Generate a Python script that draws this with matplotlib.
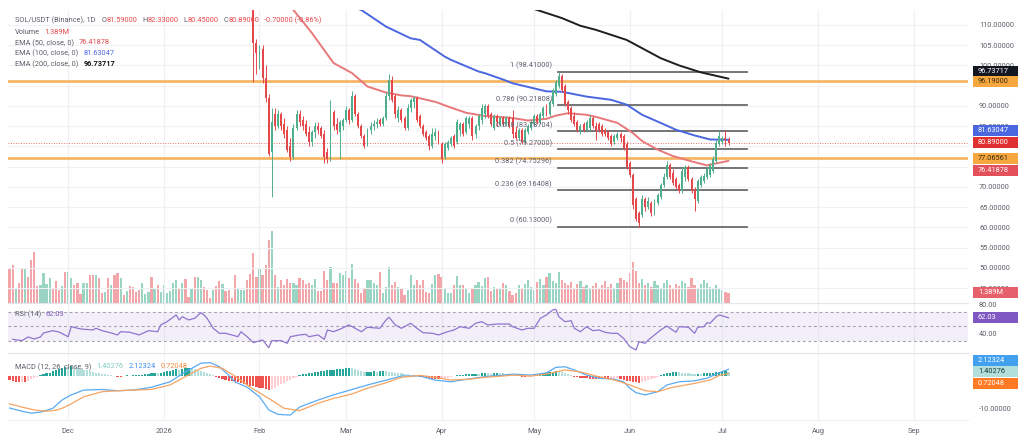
import numpy as np
import matplotlib
matplotlib.use('Agg')
import matplotlib.pyplot as plt
from matplotlib.patches import Rectangle

# ---------------- data ----------------
# daily candles, first candle = day 29 (2026-01-30), day 0 = 2026-01-01
c_first_day = 29
c_open = [117,105.5,101,104,97,92,78.5,88,85,88,85.5,84,80,77.5,84.5,88,86.5,85.5,83.5,81,
          83.5,85,84.5,83,78.5,77,88.5,85.5,83.5,85,86.5,89,86.5,92.5,88,85,82.5,80.5,84,85,
          85.5,86.5,85.5,87,92.5,96.5,92.5,87,89,87,84.5,89.5,91,92,87.5,85,83.5,82.5,80,82.5,
          83.5,80.5,77.5,79.5,80.5,82.5,81,84,85.5,83.5,85.5,87,83,85,86.5,88,90,88,84.5,87.5,
          85.5,87,85.5,87,87,83.5,82,84,81,83.5,84.5,85.5,87.5,86,87.5,90,88,90.5,93,95,
          97.5,95,91,89.5,87.5,86,84,85.5,84,84.5,87,85,85.5,85,84,83.5,82.5,81,82,83,
          82.5,80.5,76,73,67,63.5,63,67,65,66,63.5,66,67.5,70.5,72.5,75.5,73.5,72,70.5,69,
          72.5,75,72,69.5,66.5,70.5,71.5,72.5,73,74,76.5,80.5,81,82,81.59]
c_high = [118,106.5,105,105,100,93,89.5,89.5,89,88.5,87,85,82,85.5,89,89,87.5,86.5,85,84,
          86,86,85,84,79.5,91.5,89,87,86.5,87,90,89.5,93.8,93,88.5,85.5,83,84.5,86,86.5,
          87,87,87.5,93.5,98,97.5,93,90,89.5,87.5,90.5,92,92.5,92.5,88,85.5,84,83,84.5,84.5,
          84,81,81,81.5,82.5,83,86.8,86,86,87.5,87.5,87.5,85.5,88,90.5,90.5,90.5,88.5,88,88,
          87.5,87.5,87.5,87.5,89,85,84.5,84.5,84.5,85.5,86.5,88,88,88.5,90,90.5,91.5,94.5,96.5,98.41,
          98,95.5,91.5,90,88.5,86.5,85.5,86,86.5,87.8,87.5,86,86,85.5,84.5,84,83,83,83.5,83.5,
          83,81.3,76.5,73.5,67.5,64,68,67.5,67.5,66.5,67,68.5,71,73.5,76.3,76,74.5,72.5,71,75,
          75.5,75.5,72.5,70,72,73,73.5,75,76,77.5,81.5,83.7,82.5,84,82.33]
c_low = [96,98,99,95.7,91,77.5,67.6,84,84.5,84,82,78.5,76.3,77,84,85,84,82.5,80,80,
         82,83,82,76,75.8,76.5,84,83,77,84,86,85.5,86,87.5,84.5,82,79.5,80,83,84,
         84.5,85,85,86.5,91.5,91,87,86,86,84,84,88.5,89.5,86,84.5,82.5,81.5,79,79.5,81.5,
         80.5,76,77,79,80,79.5,80.5,82.5,82.5,83,84.5,81.5,82,84,85.5,87,87,85,84,85,
         85,85,85,84.5,82,81.5,81.5,80.5,80.5,83,84,85,85.5,85.5,87,87.5,87.5,90,92.5,94.5,
         93.5,90,88,86,85,83.5,83,83.5,83.5,84,84.5,81.5,83.5,82.5,82.5,81.5,80,80.5,81.5,81,
         79,74.3,72.5,64.5,61.5,60.13,62.5,64,64.5,62.8,63,65.5,67,70,72,72,70.5,69.5,68.5,68.5,
         71.5,71.5,68.5,64,66,70,71,72,72.5,73.5,76,80,80.5,80,80.45]
c_close = [105.5,103,104,97,92,78,86,85,88,85,83,79,77.5,84.5,88,86,85,83,81,83.5,
           85,84,82.5,77.5,77,88.5,85,84,86,86.5,89,86.5,92.5,88,85,82.5,80,84,85,85.5,
           86,85.5,87,92.5,96.5,91.5,88,89,86.5,84.5,89.5,91.5,92,86.5,85,83,82,80,83,83.5,
           81,77,80.5,81,82,80,86,85.5,83,87,87,82.5,85,87.5,89.5,90,87.5,85.5,87.5,86,
           87,85.5,87,85,83,82,84,81,84,85,86,87.5,86,88,89.5,88,91,94,96,97.5,
           94,90.5,89,86.5,85.5,84,85,84,86,87,85,84,84,83,83,82,80.5,82.5,83,82,
           79.5,75,73,65.5,62,61,67,65,66.5,63.5,66.5,68,70.5,72.5,75.5,72.5,71,70,69,74,
           75,72,69,67,71.5,72.5,72.8,74.5,75.5,77,80.8,82.5,82,81.59,80.89]

# volume (millions), first bar = day -50
v_first_day = -50
volume = [4.7,5.2,2.1,2.8,4.8,4.7,3.6,6.0,7.0,2.3, 2.5,4.1,2.6,3.5,2.1,3.0,1.7,2.3,4.3,4.3,
          3.4,2.4,2.8,1.2,2.7,2.7,3.9,3.9,3.8,3.4, 1.3,1.5,3.4,2.5,3.8,4.1,3.5,1.1,1.6,2.3,
          2.2,1.5,1.7,2.8,1.2,1.5,3.6,2.1,2.5,1.5, 2.5,1.3,1.6,2.8,3.1,2.0,2.7,3.3,0.8,1.9,
          3.6,3.6,3.2,2.2,1.7,0.7,1.8,2.3,3.0,2.6, 1.6,1.8,0.7,3.9,2.1,1.7,1.7,3.2,4.0,6.9,
          3.6,4.8,3.8,5.3,8.8,10.0,3.8,2.2,3.2,2.5, 3.3,2.8,2.8,2.4,3.4,3.1,2.6,2.7,2.5,3.3,
          1.6,1.6,4.4,3.1,4.9,2.8,2.8,4.1,3.8,4.4, 3.5,5.4,3.3,2.7,1.3,1.9,3.1,3.1,2.7,2.5,
          4.3,1.3,2.2,4.9,2.5,2.9,2.2,1.9,1.1,1.8, 3.8,2.4,3.1,2.5,3.1,1.5,1.4,2.6,3.8,4.0,
          3.6,2.0,1.4,1.4,2.5,3.7,2.5,2.5,2.0,1.4, 1.9,2.5,2.9,2.3,3.4,3.6,1.6,2.2,2.1,1.9,
          2.7,2.5,1.6,1.1,1.3,
          2.4,2.0,2.6,3.1,2.2,1.8,2.9,3.3,2.5,3.6, 4.1,3.0,2.7,4.3,3.2,2.8,2.4,2.9,2.1,2.6,
          3.0,2.2,2.5,1.9,2.3,2.7,2.0,2.4,3.0,2.2, 2.6,2.1,2.8,3.4,3.1,2.9,4.2,5.6,4.4,2.7,
          3.3,2.4,2.8,2.2,3.0,2.5,2.1,2.7,3.2,2.4, 2.0,2.6,2.3,3.0,2.8,2.2,3.4,2.5,2.0,2.6,
          3.1,2.7,2.2,1.9,2.4,2.0,1.7,1.5,1.389]
# up/down of volume bars before the first visible candle
vol_dir_early = "dduddudddd" "uuuudddudu" "uddduuddud" "dududdudud" "ddduuududu" \
                "uuuuududdu" "duuddduddu" "dddduuudd"

ema50_days = [30, 37, 42, 48, 55, 61, 66, 72, 77, 80, 88, 93, 98, 104, 110, 113, 118, 124, 127,
              131, 137, 140, 147, 152, 155, 160, 165, 171, 176, 179, 183]
ema50_vals = [122, 119, 113.7, 108, 100.6, 98.1, 94.8, 93.3, 92.6, 92.4, 91.0, 89.6, 88.3, 87.5,
              87.2, 87.0, 86.4, 86.8, 87.6, 88.2, 87.8, 87.3, 85.8, 83.3, 81.3, 79.2, 77.6, 76.3,
              75.3, 75.8, 76.41878]
ema100_days = [55, 64, 72, 80, 83, 91, 93, 102, 104, 110, 113, 124, 129, 137, 145, 150, 155, 161,
               166, 172, 177, 183]
ema100_vals = [116, 113.7, 109.6, 106.7, 106.3, 102.2, 101.4, 98.5, 98.1, 96.5, 95.6, 93.6, 93.5,
               92.3, 91.5, 90.3, 87.8, 85.8, 84.1, 82.7, 81.7, 81.63047]
ema200_days = [112, 121, 129, 135, 140, 150, 161, 167, 174, 183]
ema200_vals = [116, 113.7, 111.7, 109.8, 108.8, 106.3, 101.8, 100.0, 98.3, 96.73717]

support_levels = [96.19, 77.06561]
last_price = 80.89
change, change_pct = -0.70, -0.86

fib_high, fib_low = 98.41, 60.13
fib_ratios = [1, 0.786, 0.618, 0.5, 0.382, 0.236, 0]

rsi_days = [-49,-46,-44,-42,-40,-39,-36,-34,-31,-30,-27,-23,-22,-20,-17,-15,-14,-11,-8,-5,-2,-1,
            1,4,5,6,8,10,12,13,14,16,18,20,22,24,25,27,29,32,34,35,38,40,41,44,46,47,50,52,53,55,
            57,60,62,64,66,70,72,73,75,77,80,82,84,87,89,92,94,96,99,101,103,105,108,112,113,116,
            118,120,121,122,124,126,127,128,130,132,133,135,137,139,141,143,145,147,149,151,153,
            154,156,157,159,161,163,164,166,167,170,172,173,175,176,177,179,180,183]
rsi_vals = [32.3,30.4,35.5,32.8,35.5,41.0,44.2,42.4,35.9,49.7,46.6,45.2,47.5,44.2,41.0,38.3,42.8,
            42.0,38.3,44.2,42.8,52.1,56.6,65.9,59.0,63.5,59.0,61.3,69.0,65.9,61.3,47.5,40.6,40.6,
            38.3,35.9,42.8,35.9,27.7,31.4,20.8,30.4,30.4,26.8,35.9,38.3,39.2,35.9,38.3,32.3,45.2,
            42.8,46.1,52.1,47.5,42.8,48.9,47.5,59.0,62.7,52.1,47.5,54.4,47.5,41.4,40.6,38.3,42.8,
            45.2,49.7,47.5,54.4,56.6,52.1,53.4,53.4,49.7,45.2,47.5,47.5,54.4,61.3,65.9,72.8,73.7,
            63.5,56.6,58.0,47.5,42.8,49.7,44.2,45.2,42.0,40.6,40.6,33.7,22.1,17.6,29.0,26.8,31.4,
            38.3,45.2,50.7,47.5,42.0,49.7,48.9,40.6,48.9,49.7,55.2,54.4,63.5,65.9,62.03]

macd_days = [-50,-46,-43,-40,-36,-33,-30,-26,-20,-15,-10,-4,2,7,12,15,18,21,23,27,31,34,37,41,
             44,50,55,61,66,72,77,83,88,93,99,104,110,113,119,124,127,130,133,137,141,146,149,151,
             153,156,160,163,167,172,176,179,183]
macd_vals = [-10.0,-11.0,-11.6,-11.3,-10.1,-7.5,-5.9,-4.4,-4.2,-4.6,-4.4,-3.5,-1.8,1.3,4.0,4.2,
             2.9,0.3,-1.8,-3.5,-6.5,-10.6,-12.0,-12.2,-9.7,-7.5,-5.9,-4.2,-2.8,-1.3,0.0,0.0,-1.3,
             -1.8,-0.9,-0.2,0.3,0.6,0.3,1.0,2.7,2.9,1.9,0.3,-0.7,-1.0,-1.8,-3.8,-5.2,-5.9,-4.9,
             -2.8,-1.8,-1.5,-0.7,0.6,2.12324]
signal_days = [-50,-46,-42,-38,-35,-33,-30,-26,-20,-15,-10,-4,2,7,12,15,19,23,28,34,39,44,50,55,
               61,66,72,77,83,88,93,99,104,110,113,119,124,130,135,140,146,151,156,160,165,172,
               177,180,183]
signal_vals = [-8.7,-9.7,-10.6,-11.0,-10.7,-10.1,-8.7,-6.5,-4.9,-4.6,-4.4,-4.2,-2.8,-0.2,2.4,3.1,
               2.4,0.0,-3.5,-7.0,-10.1,-10.8,-8.5,-7.0,-5.6,-3.8,-2.1,-0.4,0.2,-0.4,-1.25,-1.0,
               -0.4,0.0,0.3,0.0,0.6,1.9,1.3,0.0,-1.25,-2.8,-4.6,-4.9,-3.5,-2.3,-1.25,0.2,0.72048]
hist_first_day = -50
hist = [-1.3,-1.6,-1.9,-2.0,-1.8,-1.9, -1.5,-1.0,-0.6,-0.3, 0.2,0.5,0.8,1.1,
        1.5,1.9,2.3,2.5,2.8,2.7,3.0,
        2.7,2.5,2.3,2.0,1.8,1.6,1.3,1.1,0.9,0.7,0.5,0.4,0.2,
        0.1,-0.2,-0.3,0.1,0.2,0.1,0.2,0.3,0.3,0.4,0.5,
        0.7,0.8,1.0,0.9,1.1,1.3,1.5, 1.7,1.9,2.1,2.0,2.3,2.4,2.6,2.5,
        2.2,1.9,1.6,1.2,0.9,0.5,0.2, -0.3,-0.6,-0.9,-1.1,-1.4,-1.6,-1.8,
        -2.0,-2.3,-2.5,-2.7,-3.0,-3.2,-3.4,-3.6,-3.8,-4.0,-4.3,
        -4.0,-3.6,-3.1,-2.6,-2.1,-1.6,-1.1,-0.7,-0.3,
        0.3,0.5,0.7,0.9,1.0,1.2,1.3,1.5,1.6,1.8,1.9,2.0,2.1,2.2,2.3,2.4,2.5,2.4,
        2.1,1.8,1.5,1.2, 1.3,1.4,1.5,1.4,1.5,1.6,1.5,1.4,
        1.3,1.1,0.9,0.8,0.6,0.5,0.4,0.2,0.1, -0.2,-0.4,-0.5,-0.7,-0.8,-0.9,-1.0,-0.9,
        -0.7,-0.5,-0.3,-0.1,
        0.2,0.3,0.4,0.5,0.5,0.6,0.7,0.6,0.8,0.9,0.8,0.7,0.9,1.0,0.9,0.8,0.7,0.5,0.4,
        0.2,0.1, -0.2,-0.4,-0.3,-0.2,0.1,0.3, 0.6,0.8,1.0,1.2,1.4,1.6,1.5, 1.2,0.8,0.5,0.2,
        -0.2,-0.4,-0.5,-0.6, -0.7,-0.8,-0.8,-0.9,-1.0,-0.9,-1.0,-1.0,-0.9, -0.8,-0.7,-0.9,
        -1.2,-1.4,-1.6,-1.8,-2.0,-2.1,-1.9, -1.5,-1.1,-0.8,-0.5,-0.2,
        0.3,0.6,0.9,1.1,1.3,1.4,1.3, 1.1,0.9,0.8,0.7,0.6,0.7,0.6,
        0.8,0.9,1.0,1.1,1.2,1.3,1.5,1.5,1.40276]

month_days = [-31, 0, 31, 59, 90, 120, 151, 181, 212, 243]
month_labels = ["Dec", "2026", "Feb", "Mar", "Apr", "May", "Jun", "Jul", "Aug", "Sep"]

# price-scale ticks that the reference shows (the others are covered by value tags)
price_ticks = [45, 50, 55, 60, 65, 70, 85, 90, 100, 105, 110]
rsi_ticks = [80, 40]
macd_ticks = [-10]

# ---------------- style ----------------
W, H = 1024, 446
FS = 5.3
TXT = '#5d606b'
UP, DN = '#4fae8c', '#e5484b'
VUP, VDN = '#9ad5c4', '#f3a6aa'

plt.rcParams['font.family'] = ['Roboto', 'DejaVu Sans']
fig = plt.figure(figsize=(W / 100, H / 100), dpi=100)
fig.patch.set_facecolor('white')

def ax_at(x0, y0, x1, y1, **kw):
    return fig.add_axes([x0 / W, 1 - y1 / H, (x1 - x0) / W, (y1 - y0) / H], **kw)

X0, X1 = 8, 968
XLIM = (-50.5, 260.6)
ax_v = ax_at(X0, 10, X1, 303)
ax_p = ax_at(X0, 10, X1, 303, sharex=ax_v)
ax_r = ax_at(X0, 303, X1, 353, sharex=ax_v)
ax_m = ax_at(X0, 353, X1, 420, sharex=ax_v)
ax_v.set_zorder(1)
ax_p.set_zorder(2)
ax_p.patch.set_visible(False)

for a in (ax_v, ax_p, ax_r, ax_m):
    for s in a.spines.values():
        s.set_visible(False)
    a.set_xlim(*XLIM)
    a.tick_params(length=0, labelsize=FS, labelcolor=TXT)
    a.set_xticks(month_days)
    a.grid(axis='x', color='#f0f1f4', lw=0.8)
    a.set_axisbelow(True)
for a in (ax_v, ax_p, ax_r):
    a.tick_params(labelbottom=False)
ax_m.set_xticklabels(month_labels)
ax_m.tick_params(axis='x', pad=6)
ax_v.set_yticks([])
for a in (ax_r, ax_m):
    a.spines['top'].set_visible(True)
    a.spines['top'].set_color('#e3e5ea')
    a.spines['top'].set_linewidth(0.8)
ax_m.spines['bottom'].set_visible(True)
ax_m.spines['bottom'].set_color('#eceef2')

# ---------------- price pane ----------------
P_LO, P_HI = 41.3, 113.7
ax_p.set_ylim(P_LO, P_HI)
ax_p.yaxis.tick_right()
ax_p.set_yticks(price_ticks)
ax_p.set_yticklabels([f"{v:.5f}" for v in price_ticks])
ax_p.tick_params(axis='y', pad=8)
for v in range(45, 111, 5):
    ax_p.axhline(v, color='#f0f1f4', lw=0.8, zorder=0.5)

o, h, l, c = map(np.array, (c_open, c_high, c_low, c_close))
cd = c_first_day + np.arange(len(c))
up = c >= o
col = np.where(up, UP, DN)
ax_p.vlines(cd, l, h, colors=col, lw=0.7, zorder=5)
ax_p.bar(cd, np.maximum(np.abs(c - o), 0.1), bottom=np.minimum(o, c), width=0.62,
         color=col, lw=0, zorder=6)

ax_p.plot(ema50_days, ema50_vals, color='#e8787a', lw=1.4, zorder=4, solid_capstyle='round')
ax_p.plot(ema100_days, ema100_vals, color='#4a67e0', lw=1.4, zorder=4, solid_capstyle='round')
ax_p.plot(ema200_days, ema200_vals, color='#1e1e1e', lw=1.4, zorder=4, solid_capstyle='round')

for lv in support_levels:
    ax_p.axhline(lv, color='#f5b35f', lw=1.9, zorder=3)
ax_p.axhline(last_price, color='#e57373', lw=0.7, ls=(0, (1, 1.6)), zorder=3)

# fibonacci retracement drawn from the swing high candle
fx0 = cd[int(np.argmin(np.abs(h - fib_high)))] - 0.4
fx1 = fx0 + 61.5
for r in fib_ratios:
    lv = fib_low + r * (fib_high - fib_low)
    ax_p.plot([fx0, fx1], [lv, lv], color='#6a6a6a', lw=1.3, zorder=3)
    ax_p.annotate(f"{r} ({lv:.5f})", xy=(fx0, lv), xytext=(-4, 1.5), textcoords='offset points',
                  ha='right', va='bottom', fontsize=FS, color='#5f6270', zorder=7)

# volume
vol = np.array(volume)
vd = v_first_day + np.arange(len(vol))
vdir = []
for i, d in enumerate(vd):
    if d < c_first_day:
        vdir.append(vol_dir_early[i] == 'u')
    else:
        vdir.append(bool(up[d - c_first_day]))
ax_v.bar(vd, vol, width=0.72, color=[VUP if u else VDN for u in vdir], lw=0)
ax_v.set_ylim(-0.05, 40.8)

# ---------------- RSI ----------------
ax_r.set_ylim(13.4, 82.4)
ax_r.axhspan(30, 70, color='#7e57c2', alpha=0.09, lw=0)
for lv in (70, 50, 30):
    ax_r.axhline(lv, color='#a3a3ad', lw=0.8, ls=(0, (2.5, 2.5)))
ax_r.plot(rsi_days, rsi_vals, color='#8f74cf', lw=0.9)
ax_r.yaxis.tick_right()
ax_r.set_yticks(rsi_ticks)
ax_r.set_yticklabels([f"{v:.2f}" for v in rsi_ticks])
ax_r.tick_params(axis='y', pad=8)

# ---------------- MACD ----------------
ax_m.set_ylim(-13.75, 7.2)
hv = np.array(hist)
hd = hist_first_day + np.arange(len(hv))
prev = np.concatenate([[hv[0]], hv[:-1]])
hcol = np.where(hv >= 0, np.where(hv >= prev, '#26a69a', '#b2dfdb'),
                np.where(hv <= prev, '#ef5350', '#ffcdd2'))
ax_m.bar(hd, hv, width=0.72, color=hcol, lw=0)
ax_m.plot(macd_days, macd_vals, color='#5aaaf2', lw=0.9)
ax_m.plot(signal_days, signal_vals, color='#f5a462', lw=0.9)
ax_m.yaxis.tick_right()
ax_m.set_yticks(macd_ticks)
ax_m.set_yticklabels([f"{v:.5f}" for v in macd_ticks])
ax_m.tick_params(axis='y', pad=8)

# ---------------- labels / badges ----------------
renderer = fig.canvas.get_renderer()

def row(x, y, parts):
    for s, colr, wt, gap in parts:
        t = fig.text(x / W, 1 - y / H, s, color=colr, fontsize=FS, fontweight=wt,
                     va='center', ha='left')
        x += t.get_window_extent(renderer).width + gap

RED = '#e5484b'
row(15, 20, [("SOL/USDT (Binance), 1D", TXT, 'normal', 6),
             ("O", TXT, 'normal', 0), (f"{o[-1]:.5f}", RED, 'normal', 5),
             ("H", TXT, 'normal', 0), (f"{h[-1]:.5f}", RED, 'normal', 5),
             ("L", TXT, 'normal', 0), (f"{l[-1]:.5f}", RED, 'normal', 5),
             ("C", TXT, 'normal', 0), (f"{c[-1]:.5f}", RED, 'normal', 5),
             (f"{change:.5f} ({change_pct:.2f}%)", RED, 'normal', 0)])
row(15, 32, [("Volume", TXT, 'normal', 4), (f"{vol[-1]:.3f}M", RED, 'normal', 0)])
row(15, 43, [("EMA (50, close, 0)", TXT, 'normal', 5), (f"{ema50_vals[-1]:.5f}", '#e5484b', 'normal', 0)])
row(15, 53.5, [("EMA (100, close, 0)", TXT, 'normal', 5), (f"{ema100_vals[-1]:.5f}", '#4a67e0', 'normal', 0)])
row(15, 64, [("EMA (200, close, 0)", TXT, 'normal', 5), (f"{ema200_vals[-1]:.5f}", '#131313', 'bold', 0)])
row(15, 314, [("RSI (14)", TXT, 'normal', 4), (f"{rsi_vals[-1]:.2f}", '#7e57c2', 'normal', 0)])
row(15, 367, [("MACD (12, 26, close, 9)", TXT, 'normal', 5),
              (f"{hist[-1]:.5f}", '#7fcbc0', 'normal', 5),
              (f"{macd_vals[-1]:.5f}", '#3d8ef0', 'normal', 5),
              (f"{signal_vals[-1]:.5f}", '#f58a3a', 'normal', 0)])

def badge(ax, val, txt, fc, tc, dy=0, weight='normal'):
    ypx = H - ax.transData.transform((0, val))[1] + dy
    fig.add_artist(Rectangle((973 / W, 1 - (ypx + 5.5) / H), 45 / W, 11 / H,
                             transform=fig.transFigure, fc=fc, ec='none', zorder=20))
    fig.text(978 / W, 1 - ypx / H, txt, color=tc, fontsize=FS, va='center', ha='left',
             zorder=21, fontweight=weight)

badge(ax_p, ema200_vals[-1], f"{ema200_vals[-1]:.5f}", '#131722', 'white', -7)
badge(ax_p, support_levels[0], f"{support_levels[0]:.5f}", '#f6a83f', '#3a2a10', 1)
badge(ax_p, ema100_vals[-1], f"{ema100_vals[-1]:.5f}", '#4a67e0', 'white', -9)
badge(ax_p, last_price, f"{last_price:.5f}", '#e0302f', 'white', 0)
badge(ax_p, support_levels[1], f"{support_levels[1]:.5f}", '#f6a83f', '#3a2a10', 0)
badge(ax_p, ema50_vals[-1], f"{ema50_vals[-1]:.5f}", '#e4505a', 'white', 10)
badge(ax_v, vol[-1], f"{vol[-1]:.3f}M", '#e5606a', 'white', 0)
badge(ax_r, rsi_vals[-1], f"{rsi_vals[-1]:.2f}", '#7e57c2', 'white', 0)
badge(ax_m, macd_vals[-1], f"{macd_vals[-1]:.5f}", '#42a0f0', 'white', -9)
badge(ax_m, hist[-1], f"{hist[-1]:.5f}", '#b2dfdb', '#1d3b36', 0)
badge(ax_m, signal_vals[-1], f"{signal_vals[-1]:.5f}", '#ff7a22', 'white', 10)

fig.savefig('out.png', dpi=100, facecolor='white')
